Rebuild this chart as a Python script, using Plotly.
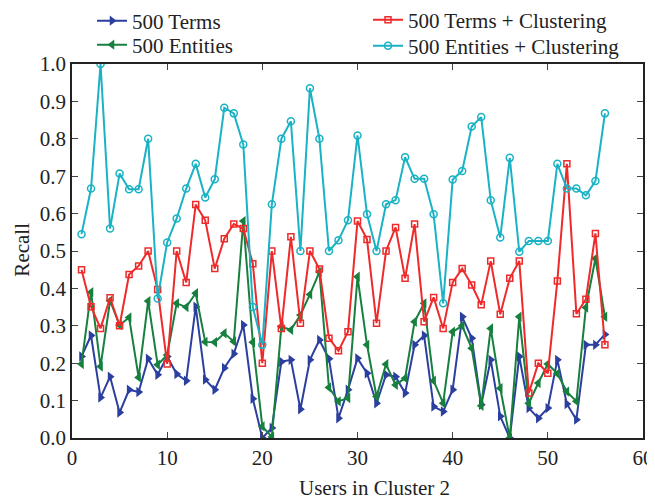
import plotly.graph_objects as go

users = list(range(1, 57))

terms = [0.218, 0.274, 0.108, 0.164, 0.068, 0.129, 0.123, 0.212, 0.169, 0.218,
         0.171, 0.153, 0.351, 0.156, 0.129, 0.187, 0.225, 0.302, 0.105, 0.0,
         0.027, 0.204, 0.209, 0.077, 0.209, 0.262, 0.212, 0.053, 0.129, 0.213,
         0.173, 0.093, 0.169, 0.164, 0.120, 0.249, 0.274, 0.084, 0.071, 0.129,
         0.324, 0.267, 0.089, 0.209, 0.058, 0.0, 0.218, 0.080, 0.053, 0.080,
         0.209, 0.091, 0.049, 0.249, 0.249, 0.277]

entities = [0.198, 0.390, 0.191, 0.367, 0.302, 0.322, 0.162, 0.366, 0.196, 0.222,
            0.360, 0.350, 0.387, 0.257, 0.256, 0.280, 0.258, 0.580, 0.256, 0.031,
            0.003, 0.298, 0.289, 0.329, 0.384, 0.444, 0.135, 0.098, 0.107, 0.431,
            0.249, 0.111, 0.197, 0.142, 0.160, 0.311, 0.360, 0.153, 0.093, 0.284,
            0.300, 0.240, 0.086, 0.293, 0.133, 0.0, 0.324, 0.093, 0.147, 0.198,
            0.172, 0.124, 0.098, 0.349, 0.480, 0.324]

terms_clust = [0.450, 0.351, 0.293, 0.375, 0.300, 0.437, 0.460, 0.500, 0.397, 0.198,
               0.500, 0.416, 0.624, 0.582, 0.453, 0.533, 0.572, 0.560, 0.466, 0.200,
               0.500, 0.293, 0.538, 0.307, 0.500, 0.452, 0.267, 0.233, 0.284, 0.580,
               0.531, 0.307, 0.500, 0.563, 0.427, 0.572, 0.311, 0.376, 0.293, 0.416,
               0.453, 0.409, 0.356, 0.473, 0.331, 0.427, 0.473, 0.120, 0.200, 0.173,
               0.420, 0.733, 0.332, 0.371, 0.547, 0.249]

entities_clust = [0.545, 0.667, 1.0, 0.560, 0.707, 0.665, 0.665, 0.800, 0.373, 0.523,
                  0.587, 0.667, 0.733, 0.643, 0.692, 0.883, 0.868, 0.785, 0.350, 0.249,
                  0.625, 0.800, 0.847, 0.500, 0.935, 0.800, 0.500, 0.529, 0.582, 0.809,
                  0.598, 0.500, 0.625, 0.636, 0.751, 0.693, 0.693, 0.598, 0.360, 0.691,
                  0.714, 0.833, 0.858, 0.636, 0.536, 0.749, 0.498, 0.527, 0.527, 0.527,
                  0.733, 0.667, 0.667, 0.649, 0.687, 0.868]

x_ticks = [0, 10, 20, 30, 40, 50, 60]
y_ticks = [0.0, 0.1, 0.2, 0.3, 0.4, 0.5, 0.6, 0.7, 0.8, 0.9, 1.0]

FONT = "Liberation Serif"
FS = 21
BLUE = "#2b3f9e"
GREEN = "#17803f"
RED = "#ee2a2a"
CYAN = "#1ab2c4"

fig = go.Figure()
fig.add_trace(go.Scatter(x=users, y=terms, name="500 Terms", mode="lines+markers",
                         line=dict(color=BLUE, width=2),
                         marker=dict(symbol="triangle-right", size=9, color=BLUE),
                         legend="legend"))
fig.add_trace(go.Scatter(x=users, y=entities, name="500 Entities", mode="lines+markers",
                         line=dict(color=GREEN, width=2),
                         marker=dict(symbol="triangle-left", size=9, color=GREEN),
                         legend="legend2"))
fig.add_trace(go.Scatter(x=users, y=terms_clust, name="500 Terms + Clustering", mode="lines+markers",
                         line=dict(color=RED, width=2),
                         marker=dict(symbol="square-open", size=6, color=RED, line=dict(width=1.5)),
                         legend="legend3"))
fig.add_trace(go.Scatter(x=users, y=entities_clust, name="500 Entities + Clustering", mode="lines+markers",
                         line=dict(color=CYAN, width=2),
                         marker=dict(symbol="circle-open", size=7, color=CYAN, line=dict(width=1.5)),
                         legend="legend4"))

axis_common = dict(showgrid=False, zeroline=False, showline=True, linecolor="#222",
                   linewidth=1.5, mirror="ticks", ticks="inside", ticklen=6,
                   tickcolor="#444", automargin=False,
                   tickfont=dict(family=FONT, size=FS, color="#222"))

def leg(xpix, ypix):
    return dict(x=xpix / 655, y=1 - ypix / 499, xref="container", yref="container",
                xanchor="left", yanchor="middle", bgcolor="rgba(0,0,0,0)",
                font=dict(family=FONT, size=FS, color="#222"), itemwidth=30)

fig.update_layout(
    width=655, height=499,
    margin=dict(l=64, r=20, t=56, b=69, autoexpand=False),
    paper_bgcolor="white", plot_bgcolor="white",
    font=dict(family=FONT, color="#222"),
    xaxis=dict(range=[0, 60], tickvals=x_ticks, **axis_common),
    yaxis=dict(range=[0, 1.0], tickvals=y_ticks, tickformat=".1f", **axis_common),
    legend=leg(84, 13),
    legend2=leg(84, 37),
    legend3=leg(360, 12),
    legend4=leg(360, 38),
    showlegend=True,
    annotations=[
        dict(text="Users in Cluster 2", xref="paper", yref="paper", x=0.529, y=-0.134,
             xanchor="center", yanchor="middle", showarrow=False,
             font=dict(family=FONT, size=FS, color="#222")),
        dict(text="Recall", xref="paper", yref="paper", x=-0.088, y=0.503, textangle=-90,
             xanchor="center", yanchor="middle", showarrow=False,
             font=dict(family=FONT, size=FS, color="#222")),
    ],
)

fig.write_html("out.html")
